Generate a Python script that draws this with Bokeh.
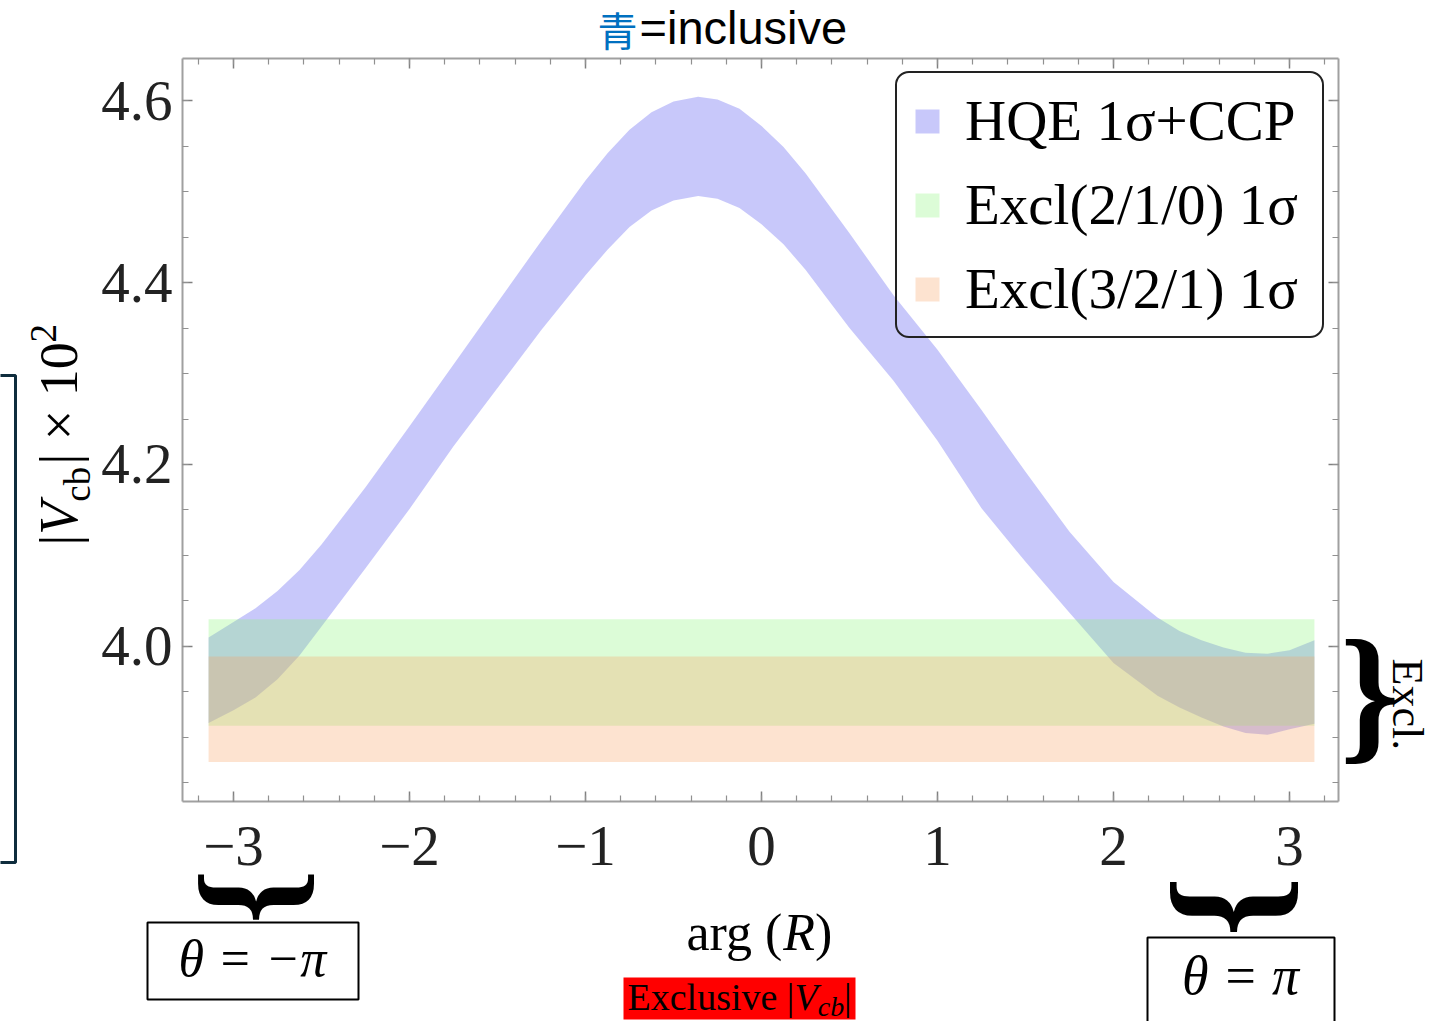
from math import pi
from bokeh.plotting import figure
from bokeh.models import (Range1d, FixedTicker, LinearAxis, Label, BoxAnnotation,
                          Legend, LegendItem, CustomJSTickFormatter)
from bokeh.embed import file_html
from bokeh.resources import INLINE

# ---------------- data ----------------
arg_R = [-3.1416, -3.0, -2.875, -2.75, -2.625, -2.5, -2.25, -2.0, -1.75, -1.5, -1.25, -1.0,
         -0.875, -0.75, -0.625, -0.5, -0.36, -0.25, -0.125, 0.0, 0.125, 0.25, 0.375, 0.5,
         0.75, 1.0, 1.25, 1.5, 1.75, 2.0, 2.25, 2.375, 2.5, 2.625, 2.75, 2.875, 3.0, 3.1416]
hqe_upper = [4.010, 4.027, 4.042, 4.061, 4.084, 4.112, 4.175, 4.242, 4.310, 4.378, 4.446,
             4.512, 4.542, 4.568, 4.587, 4.599, 4.604, 4.601, 4.591, 4.572, 4.549, 4.520,
             4.487, 4.454, 4.386, 4.326, 4.260, 4.192, 4.126, 4.071, 4.032, 4.017, 4.007,
             3.999, 3.993, 3.992, 3.996, 4.007]
hqe_lower = [3.916, 3.930, 3.944, 3.964, 3.990, 4.022, 4.086, 4.151, 4.220, 4.284, 4.348,
             4.408, 4.436, 4.461, 4.479, 4.490, 4.495, 4.492, 4.482, 4.464, 4.442, 4.414,
             4.382, 4.350, 4.292, 4.226, 4.152, 4.093, 4.037, 3.982, 3.946, 3.933, 3.922,
             3.912, 3.905, 3.903, 3.909, 3.915]
excl_210 = [3.913, 4.030]   # (low, high)
excl_321 = [3.873, 3.989]   # (low, high)

x_major = [-3, -2, -1, 0, 1, 2, 3]
x_labels = {-3: "\u22123", -2: "\u22122", -1: "\u22121", 0: "0", 1: "1", 2: "2", 3: "3"}
y_major = [4.0, 4.2, 4.4, 4.6]
y_labels = {4.0: "4.0", 4.2: "4.2", 4.4: "4.4", 4.6: "4.6"}
x_minor = [round(-3.2 + 0.2 * i, 2) for i in range(33)]
y_minor = [round(3.85 + 0.05 * i, 3) for i in range(16)]

legend_labels = ["HQE 1\u03c3+CCP", "Excl(2/1/0) 1\u03c3", "Excl(3/2/1) 1\u03c3"]

BLUE, GREEN, ORANGE = "#4848EE", "#8AF57A", "#F8A262"
ALPHA = 0.3

# ---------------- figure: frame = whole page, axes at fixed locations ----------------
W, H = 1431, 1021
XL, XR = -3.2898, 3.2784      # plot box edges (data)
YB, YT = 3.8297, 4.6462
p = figure(width=W, height=H, output_backend="svg", toolbar_location=None,
           x_range=Range1d(-4.3239, 3.8068), y_range=Range1d(3.5879, 4.7099),
           x_axis_type=None, y_axis_type=None, min_border=0,
           background_fill_color="white", border_fill_color="white",
           outline_line_color=None)
p.grid.visible = False

xt = FixedTicker(ticks=x_major, minor_ticks=x_minor)
yt = FixedTicker(ticks=y_major, minor_ticks=y_minor)
empty = CustomJSTickFormatter(code="return ''")

ax_b = LinearAxis(ticker=xt, fixed_location=YB, bounds=(XL, XR),
                  major_label_overrides=x_labels)
ax_t = LinearAxis(ticker=xt, fixed_location=YT, bounds=(XL, XR), formatter=empty)
ax_l = LinearAxis(ticker=yt, fixed_location=XL, bounds=(YB, YT),
                  major_label_overrides=y_labels)
ax_r = LinearAxis(ticker=yt, fixed_location=XR, bounds=(YB, YT), formatter=empty)
p.add_layout(ax_b, "below")
p.add_layout(ax_t, "above")
p.add_layout(ax_l, "left")
p.add_layout(ax_r, "right")

for ax in [ax_b, ax_t, ax_l, ax_r]:
    ax.axis_line_color = "#a0a0a0"
    ax.axis_line_width = 2
    ax.major_tick_line_color = "#808080"
    ax.minor_tick_line_color = "#909090"
    ax.major_tick_line_width = 1.5
    ax.minor_tick_line_width = 1.2
    ax.major_tick_in = 10
    ax.major_tick_out = 0
    ax.minor_tick_in = 6
    ax.minor_tick_out = 0
    ax.major_label_text_font = "Liberation Serif"
    ax.major_label_text_font_size = "57px"
    ax.major_label_text_color = "#222222"
ax_b.major_label_standoff = 26
ax_l.major_label_standoff = 10

# ---------------- bands ----------------
r_blue = p.varea(x=arg_R, y1=hqe_lower, y2=hqe_upper, fill_color=BLUE, fill_alpha=ALPHA)
r_green = p.quad(left=[arg_R[0]], right=[arg_R[-1]], bottom=[excl_210[0]], top=[excl_210[1]],
                 fill_color=GREEN, fill_alpha=ALPHA, line_color=None)
r_orange = p.quad(left=[arg_R[0]], right=[arg_R[-1]], bottom=[excl_321[0]], top=[excl_321[1]],
                  fill_color=ORANGE, fill_alpha=ALPHA, line_color=None)

legend = Legend(items=[LegendItem(label=legend_labels[0], renderers=[r_blue]),
                       LegendItem(label=legend_labels[1], renderers=[r_green]),
                       LegendItem(label=legend_labels[2], renderers=[r_orange])],
                location=(895, H - 338), margin=0, padding=15, spacing=19,
                glyph_width=30, glyph_height=30, label_standoff=23,
                label_height=62, label_width=342,
                label_text_font="Liberation Serif", label_text_font_size="57px",
                label_text_color="black", border_line_color="#222222",
                border_line_alpha=1.0, border_line_width=2.5, background_fill_alpha=0)
try:
    legend.border_radius = 14
except Exception:
    pass
p.add_layout(legend)


# ---------------- annotations around the chart (page pixel positions) ----------------
def lab(text, X, Y, size, font="Liberation Serif", style="normal", color="black",
        align="left", baseline="alphabetic", angle=0.0, shift=0.39):
    # compensate the renderer's placement of the alphabetic baseline
    if baseline == "alphabetic":
        d = shift * size
        if angle > 0.1:
            X -= d
        elif angle < -0.1:
            X += d
        else:
            Y -= d
    p.add_layout(Label(x=X, y=H - Y, x_units="screen", y_units="screen", text=text,
                       text_font=font, text_font_size=f"{size}px", text_font_style=style,
                       text_color=color, text_align=align, text_baseline=baseline,
                       angle=angle))


def box(X0, Y0, X1, Y1, **kw):
    p.add_layout(BoxAnnotation(left=X0, right=X1, top=H - Y0, bottom=H - Y1,
                               left_units="screen", right_units="screen",
                               top_units="screen", bottom_units="screen", **kw))


# title
lab("\u9752", 597, 46, 40, font="Noto Sans CJK JP", color="#0070C0", shift=0.45)
lab("=inclusive", 639, 46, 47, font="Liberation Sans", shift=0.40)

# y axis label |V_cb| x 10^2
lab("|", 80, 545, 54, angle=pi / 2)
lab("V", 80, 534.2, 54, style="italic", angle=pi / 2)
lab("cb", 91, 501.2, 37, angle=pi / 2)
lab("| \u00d7 10", 80, 464, 54, angle=pi / 2)
lab("2", 57, 342, 37, angle=pi / 2)

# x axis label arg(R)
lab("arg (", 686, 952, 52)
lab("R", 782.7, 952, 52, style="italic")
lab(")", 814.5, 952, 52)

# left bracket box
box(-40, 375, 15, 862, fill_alpha=0, line_color="#0F2D3D", line_alpha=1, line_width=3)

# right brace + Excl.
lab("}", 1369, 692, 150, style="bold", align="center", baseline="middle")
lab("Excl.", 1390, 658, 44, angle=-pi / 2)

# bottom braces and theta boxes
lab("}", 264, 896, 140, style="bold", align="center", baseline="middle", angle=-pi / 2)
lab("}", 1241, 906, 155, style="bold", align="center", baseline="middle", angle=-pi / 2)
box(147, 922, 358, 999, fill_alpha=0, line_color="black", line_alpha=1, line_width=2)
box(1147, 937, 1334, 1030, fill_alpha=0, line_color="black", line_alpha=1, line_width=2)
lab("\u03b8 = \u2212\u03c0", 252, 978, 52, style="italic", align="center")
lab("\u03b8 = \u03c0", 1240, 997, 54, style="italic", align="center")

# red "Exclusive |V_cb|"
box(623, 977, 855, 1019, fill_color="#FF0000", fill_alpha=1, line_color=None)
lab("Exclusive |", 627, 1011, 38)
lab("V", 794, 1011, 38, style="italic")
lab("cb", 817.2, 1017, 28, style="italic")
lab("|", 843.6, 1011, 38)

open("out.html", "w").write(file_html(p, INLINE))
